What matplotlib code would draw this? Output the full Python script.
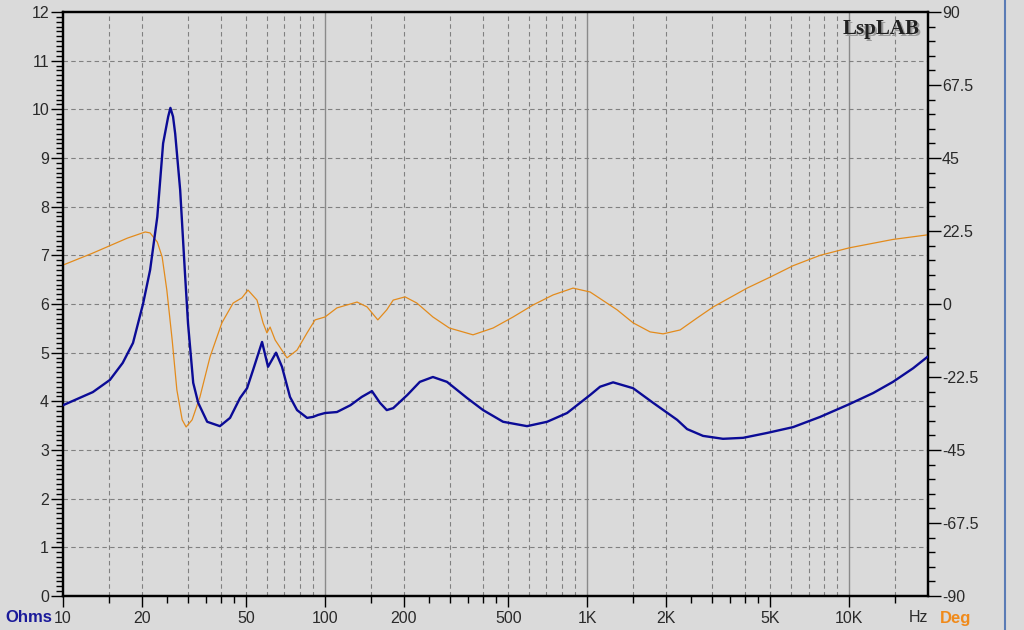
import matplotlib.pyplot as plt
from matplotlib.ticker import FixedLocator, FixedFormatter, NullFormatter

# impedance curve (Hz, Ohms)
freq_z = [10, 13.0, 15.1, 16.9, 18.5, 20.2, 21.5, 22.9, 24.1, 25.2, 25.7, 26.3, 26.8, 28.0,
          29.2, 30.0, 31.4, 32.8, 35.5, 39.7, 43.4, 47.4, 50.4, 53.1, 57.5, 60.6,
          65.0, 68.5, 73.5, 78.2, 85.4, 90, 94, 100, 111, 125, 138, 151, 162, 172,
          182, 206, 230, 258, 292, 348, 401, 478, 590, 704, 839, 1027, 1121, 1257,
          1498, 1786, 2206, 2408, 2770, 3300, 3939, 4860, 6110, 7750, 10000, 12350,
          14700, 17550, 19860]
ohms = [3.92, 4.19, 4.44, 4.79, 5.2, 6.0, 6.7, 7.79, 9.3, 9.85, 10.03, 9.85, 9.5, 8.34,
        6.64, 5.6, 4.38, 3.97, 3.58, 3.49, 3.66, 4.07, 4.27, 4.64, 5.22, 4.71,
        5.0, 4.71, 4.09, 3.82, 3.66, 3.68, 3.72, 3.76, 3.78, 3.92, 4.09, 4.21, 3.97, 3.82,
        3.86, 4.13, 4.4, 4.5, 4.4, 4.07, 3.82, 3.58, 3.49, 3.58, 3.76, 4.13, 4.3, 4.39,
        4.27, 3.97, 3.62, 3.43, 3.29, 3.23, 3.25, 3.35, 3.47, 3.68, 3.94, 4.17,
        4.4, 4.68, 4.91]

# phase curve (Hz, degrees)
freq_p = [10, 13.0, 17.6, 20.6, 21.5, 22.9, 23.9, 24.9, 26.1, 27.2, 28.5, 29.5, 31.1,
          33.3, 36.4, 40.4, 44.6, 48.2, 50.8, 55.0, 58.0, 60.0, 61.7, 64.5, 71.6, 78.2,
          85.4, 91.6, 100, 111, 132.5, 144.7, 159, 172, 182, 202, 224, 258, 298, 367,
          438, 522, 622, 742, 884, 1027, 1302, 1498, 1740, 1950, 2265, 2630, 3030, 4080,
          5000, 6110, 7750, 10000, 14700, 19860]
deg = [12.0, 15.7, 20.3, 22.2, 21.9, 19.1, 14.5, 4.3, -11.1, -26.5, -35.7, -37.9, -35.7,
       -28.7, -16.3, -5.8, 0.3, 1.9, 4.3, 1.2, -5.8, -8.9, -7.1, -11.1, -16.6, -14.2,
       -8.9, -4.9, -4.0, -1.2, 0.6, -0.9, -4.9, -1.8, 1.2, 2.2, 0.3, -4.0, -7.4, -9.5,
       -7.4, -4.0, -0.3, 2.8, 4.9, 3.7, -1.8, -5.8, -8.6, -9.2, -8.0, -4.3, -0.9, 4.9,
       8.3, 11.8, 15.0, 17.3, 19.9, 21.3]

xtick_vals = [10, 20, 50, 100, 200, 500, 1000, 2000, 5000, 10000]
xtick_labels = ['10', '20', '50', '100', '200', '500', '1K', '2K', '5K', '10K']

BLUE = '#0B0B96'
ORANGE = '#E38B1C'
TXT = '#2a2a2a'

plt.rcParams['font.family'] = ['Liberation Sans', 'DejaVu Sans']

fig = plt.figure(figsize=(10.24, 6.3), dpi=100, facecolor='#DADADA')
ax = fig.add_axes([63 / 1024, 34 / 630, 865 / 1024, 584 / 630])
ax2 = ax.twinx()

ax.set_xscale('log')
ax.set_xlim(10, 20000)
ax.set_ylim(0, 12)
ax2.set_ylim(-90, 90)

# blue on top of orange
ax.set_zorder(ax2.get_zorder() + 1)
ax.patch.set_visible(False)
ax2.patch.set_facecolor('white')

# grid
for dec in [10, 100, 1000, 10000]:
    for m in [1.5, 2, 3, 4, 5, 6, 7, 8, 9]:
        f = dec * m
        if f < 20000:
            ax2.axvline(f, color='#808080', lw=0.8, ls=(0, (4, 3)), zorder=1)
for dec in [100, 1000, 10000]:
    ax2.axvline(dec, color='#8a8a8a', lw=1.0, zorder=1)
for h in range(1, 12):
    ax2.axhline(-90 + h * 15, color='#808080', lw=0.8, ls=(0, (4, 3)), zorder=1)

ax2.plot(freq_p, deg, color=ORANGE, lw=0.9, zorder=3)
ax.plot(freq_z, ohms, color=BLUE, lw=1.7, zorder=4)

# ticks
ax.xaxis.set_major_locator(FixedLocator(xtick_vals))
ax.xaxis.set_major_formatter(FixedFormatter(xtick_labels))
minor_x = [d * m for d in [10, 100, 1000, 10000] for m in [1.5, 2.5, 3, 3.5, 4, 4.5]
           if d * m < 20000]
ax.xaxis.set_minor_locator(FixedLocator(minor_x))
ax.xaxis.set_minor_formatter(NullFormatter())

ax.set_yticks(range(0, 13))
ax.set_yticks([i / 10 for i in range(121)], minor=True)
ax2.set_yticks([-90, -67.5, -45, -22.5, 0, 22.5, 45, 67.5, 90])
ax2.set_yticklabels(['-90', '-67.5', '-45', '-22.5', '0', '22.5', '45', '67.5', '90'])
ax2.set_yticks([-90 + 4.5 * i for i in range(41)], minor=True)

ax.tick_params(axis='y', which='major', length=9, width=1, labelsize=11.5,
               labelcolor=TXT, pad=1)
ax.tick_params(axis='y', which='minor', length=5, width=1)
ax.tick_params(axis='x', which='major', length=8, width=1, labelsize=11.5,
               labelcolor=TXT, pad=3)
ax.tick_params(axis='x', which='minor', length=5, width=1)
ax2.tick_params(axis='y', which='major', length=9, width=1, labelsize=11.5,
                labelcolor=TXT, pad=1)
ax2.tick_params(axis='y', which='minor', length=5, width=1)

for a in (ax, ax2):
    for s in a.spines.values():
        s.set_linewidth(1.6)
        s.set_color('black')

fig.text(5 / 1024, 1 - 618 / 630, 'Ohms', color='#1a1a9a', fontsize=12,
         fontweight='bold', va='center', ha='left')
fig.text(940 / 1024, 1 - 618 / 630, 'Deg', color='#F08A1A', fontsize=12,
         fontweight='bold', va='center', ha='left')
fig.text(918 / 1024, 1 - 618 / 630, 'Hz', color=TXT, fontsize=11.5,
         va='center', ha='center')

# logo with shadow
fig.text(922 / 1024, 1 - 31 / 630, 'LspLAB', color='#9a9a9a', fontsize=15,
         fontweight='bold', family='Liberation Serif', ha='right', va='center')
fig.text(920 / 1024, 1 - 29 / 630, 'LspLAB', color='#202020', fontsize=15,
         fontweight='bold', family='Liberation Serif', ha='right', va='center')

# window border at right
fig.add_artist(plt.Line2D([1005 / 1024, 1005 / 1024], [0, 1], color='#5a7bb5',
                          lw=1.5, transform=fig.transFigure))

fig.savefig('out.png', dpi=100, facecolor=fig.get_facecolor())
